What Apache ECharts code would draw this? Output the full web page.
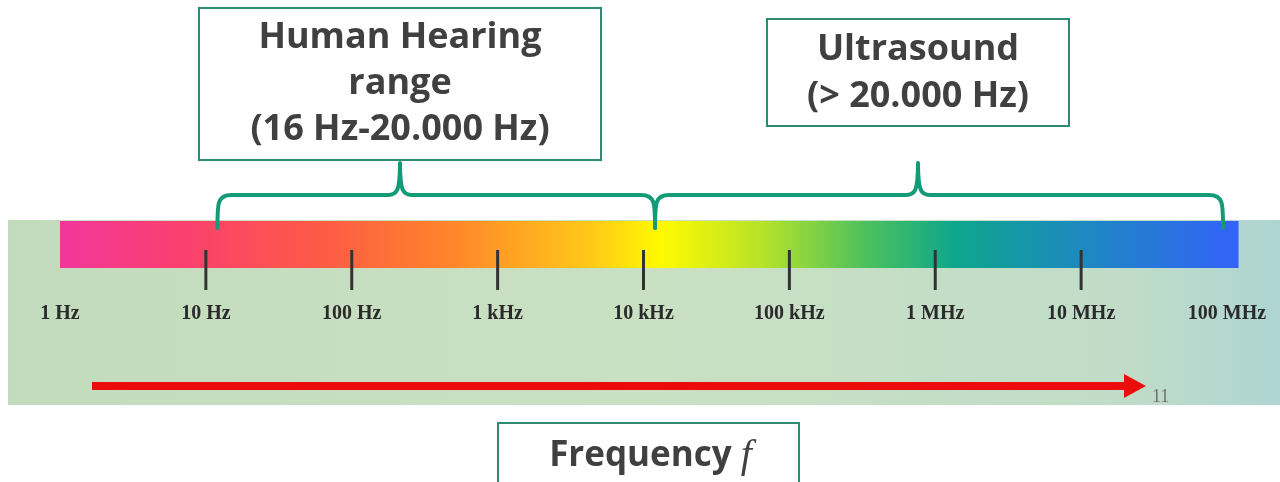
<!DOCTYPE html>
<html><head><meta charset="utf-8">
<script src="https://cdn.jsdelivr.net/npm/echarts@6/dist/echarts.min.js"></script>
<style>html,body{margin:0;padding:0;background:#fff}#c{width:1280px;height:482px}</style>
</head><body><div id="c"></div>
<script>
// ---- data ----
const tickLabels = ['1 Hz','10 Hz','100 Hz','1 kHz','10 kHz','100 kHz','1 MHz','10 MHz','100 MHz'];
const tickMarkValues = [10, 100, 1000, 10000, 100000, 1000000, 10000000];
const spectrumRange = [1, 1.2e8];
const hearingBrace = [12, 12000];
const ultrasoundBrace = [12000, 9.4e7];
const hearingText = ['Human Hearing', 'range', '(16 Hz-20.000 Hz)'];
const ultrasoundText = ['Ultrasound', '(> 20.000 Hz)'];
const axisTitle = 'Frequency';
const axisSymbol = 'f';
const slideNumber = '11';

// ---- layout ----
const boxL = {x: 199, y: 8, w: 402, h: 152};
const boxR = {x: 767, y: 19, w: 302, h: 107};
const boxB = {x: 498, y: 423, w: 301, h: 70};
const braceColor = '#139a76';
const boxStroke = '#2f8b6f';
const textColor = '#404040';

const chart = echarts.init(document.getElementById('c'), null, {renderer: 'canvas'});

const barGradient = new echarts.graphic.LinearGradient(0, 0, 1, 0, [
  {offset: 0.00, color: '#f1379a'},
  {offset: 0.10, color: '#fa3f70'},
  {offset: 0.22, color: '#fd5a46'},
  {offset: 0.33, color: '#ff842b'},
  {offset: 0.45, color: '#ffc818'},
  {offset: 0.51, color: '#fffb00'},
  {offset: 0.60, color: '#b2e12c'},
  {offset: 0.68, color: '#50c25c'},
  {offset: 0.76, color: '#0da68c'},
  {offset: 0.86, color: '#1c8bbd'},
  {offset: 1.00, color: '#3362f8'}
]);

const bgGradient = new echarts.graphic.LinearGradient(0, 0, 1, 0, [
  {offset: 0, color: '#c3dbbd'},
  {offset: 0.5, color: '#cae0c3'},
  {offset: 0.88, color: '#c0dcc8'},
  {offset: 1, color: '#aed5d2'}
]);

function braceRender(peakX) {
  return function (params, api) {
    const x1 = api.coord([api.value(0), 0])[0];
    const x2 = api.coord([api.value(1), 0])[0];
    const top = params.coordSys.y;
    const yEnd = top + 7, yH = top - 26, yP = top - 58;
    const xp = peakX;
    const d = `M${x1} ${yEnd} C${x1} ${yH+8} ${x1} ${yH} ${x1+14} ${yH} L${xp-12} ${yH} ` +
      `C${xp-3} ${yH} ${xp} ${yH-4} ${xp} ${yP} C${xp} ${yH-4} ${xp+3} ${yH} ${xp+12} ${yH} ` +
      `L${x2-14} ${yH} C${x2} ${yH} ${x2} ${yH+8} ${x2} ${yEnd}`;
    return {type: 'path', shape: {pathData: d}, style: {stroke: braceColor, lineWidth: 4, fill: 'none', lineCap: 'round', lineJoin: 'round'}};
  };
}

function boxGraphic(b, lines, lineH, font, dy) {
  return [
    {type: 'rect', z: 20, shape: {x: b.x, y: b.y, width: b.w, height: b.h},
     style: {fill: '#fff', stroke: boxStroke, lineWidth: 2}},
    {type: 'text', z: 21, x: b.x + b.w / 2, y: b.y + b.h / 2 + dy,
     style: {text: lines.join('\n'), font: font, fill: textColor, align: 'center', verticalAlign: 'middle', lineHeight: lineH}}
  ];
}

const option = {
  animation: false,
  grid: {left: 60, right: 53, top: 221, height: 47},
  xAxis: {
    type: 'log', logBase: 10, min: 1, max: 1e8, interval: 1,
    axisLine: {show: false}, axisTick: {show: false}, splitLine: {show: false},
    axisLabel: {
      margin: 36, color: '#2a2a2a', fontFamily: 'Liberation Serif', fontWeight: 'bold', fontSize: 20,
      formatter: v => tickLabels[Math.round(Math.log10(v))]
    }
  },
  yAxis: {type: 'value', min: 0, max: 1, show: false},
  graphic: [
    {type: 'rect', z: -10, shape: {x: 8, y: 220, width: 1272, height: 185}, style: {fill: bgGradient}},
    {type: 'rect', z: 5, shape: {x: 92, y: 382, width: 1036, height: 8}, style: {fill: '#ee0b0b'}},
    {type: 'polygon', z: 5, shape: {points: [[1124, 374], [1146, 386], [1124, 398]]}, style: {fill: '#ee0b0b'}},
    {type: 'text', z: 5, x: 1152, y: 397, style: {text: slideNumber, font: '18px "Liberation Serif"', fill: '#707070', verticalAlign: 'middle'}},
    ...boxGraphic(boxL, hearingText, 46, 'bold 36px "Open Sans"', 0),
    ...boxGraphic(boxR, ultrasoundText, 47, 'bold 36px "Open Sans"', 1),
    {type: 'rect', z: 20, shape: {x: boxB.x, y: boxB.y, width: boxB.w, height: boxB.h},
     style: {fill: '#fff', stroke: boxStroke, lineWidth: 2}},
    {type: 'text', z: 21, x: boxB.x + boxB.w / 2 + 2, y: 456,
     style: {text: '{a|' + axisTitle + ' }{b|' + axisSymbol + '}', align: 'center', verticalAlign: 'middle',
       rich: {a: {font: 'bold 35px "Open Sans"', fill: textColor, color: textColor},
              b: {font: 'italic 40px "Liberation Serif"', fill: textColor, color: textColor}}}}
  ],
  series: [
    {
      type: 'custom', z: 2, clip: false,
      data: [spectrumRange],
      renderItem: (params, api) => {
        const a = api.coord([api.value(0), 1]);
        const b = api.coord([api.value(1), 0]);
        return {type: 'rect', shape: {x: a[0], y: a[1], width: b[0] - a[0], height: b[1] - a[1]}, style: {fill: barGradient}};
      }
    },
    {
      type: 'custom', z: 3, clip: false,
      data: tickMarkValues.map(v => [v]),
      renderItem: (params, api) => {
        const p = api.coord([api.value(0), 0]);
        return {type: 'line', shape: {x1: p[0], y1: p[1] - 18, x2: p[0], y2: p[1] + 22}, style: {stroke: '#333', lineWidth: 3}};
      }
    },
    {type: 'custom', z: 4, clip: false, data: [hearingBrace], renderItem: braceRender(boxL.x + boxL.w / 2)},
    {type: 'custom', z: 4, clip: false, data: [ultrasoundBrace], renderItem: braceRender(boxR.x + boxR.w / 2)}
  ]
};
chart.setOption(option);
</script></body></html>
